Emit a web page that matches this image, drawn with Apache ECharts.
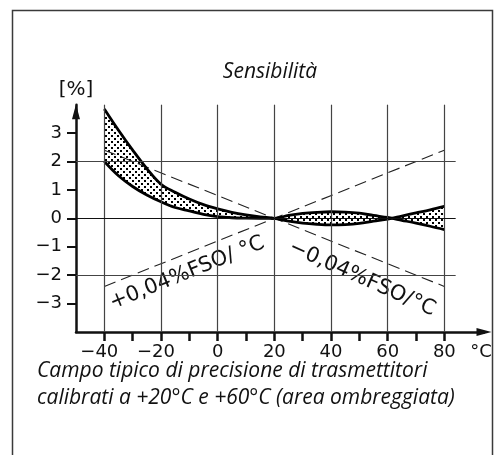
<!DOCTYPE html>
<html>
<head>
<meta charset="utf-8">
<title>Sensibilità</title>
<script src="https://cdn.jsdelivr.net/npm/echarts@6/dist/echarts.min.js"></script>
<style>
  html, body { margin: 0; padding: 0; background: #fff; }
  #chart { width: 494px; height: 455px; }
</style>
</head>
<body>
<div id="chart"></div>
<script>
// temperature [°C] at which the two band borders were read
const tempC = [-40, -35, -30, -25, -20, -15, -10, -5, 0, 5, 10, 15, 20, 25, 30, 35, 40, 45, 50, 55, 60, 65, 70, 75, 80];
// the two borders of the shaded band [%]
const curveA = [3.85, 3.1, 2.4, 1.75, 1.2, 0.92, 0.68, 0.48, 0.33, 0.21, 0.12, 0.05, 0, -0.1, -0.17, -0.21, -0.23, -0.22, -0.18, -0.1, -0.03, 0.08, 0.19, 0.3, 0.42];
const curveB = [2.0, 1.5, 1.12, 0.82, 0.58, 0.38, 0.26, 0.14, 0.06, 0.02, 0.005, 0, 0, 0.1, 0.17, 0.21, 0.23, 0.22, 0.18, 0.1, 0.03, -0.07, -0.17, -0.28, -0.4];
// +/-0,04 %FSO/°C reference lines
const slopeUp = [[-40, -2.4], [80, 2.4]];
const slopeDown = [[-40, 2.4], [80, -2.4]];
// ticks, labels, grid
const xTicks = [-40, -30, -20, -10, 0, 10, 20, 30, 40, 50, 60, 70, 80];
const xLabels = [-40, -20, 0, 20, 40, 60, 80];
const yTicks = [-3, -2, -1, 0, 1, 2, 3];
const gridX = [-40, -20, 0, 20, 40, 60, 80];
const gridY = [-2, 0, 2];

const xMin = -50, xMax = 94, yMin = -4, yMax = 4;
const gridRight = 84;
const numFont = 'DejaVu Sans';
const textFont = '"Open Sans", "Noto Sans", sans-serif';

// dotted fill for the band
const dots = document.createElement('canvas');
dots.width = 6; dots.height = 6;
(function () {
    let g = dots.getContext('2d');
    g.fillStyle = '#000';
    g.fillRect(0, 0, 2, 2);
    g.fillRect(3, 3, 2, 2);
})();

function minus(v) {
    return v < 0 ? '\u2212' + Math.abs(v) : String(v);
}

let chart = echarts.init(document.getElementById('chart'), null, { renderer: 'canvas' });

let markLines = [];
gridX.forEach(function (t) {
    markLines.push([{ coord: [t, yMin] }, { coord: [t, yMax] }]);
});
gridY.forEach(function (v) {
    markLines.push([
        { coord: [xMin, v], lineStyle: { color: v === 0 ? '#111' : '#444' } },
        { coord: [gridRight, v] }
    ]);
});

let option = {
    animation: false,
    grid: { left: 76, right: 10, top: 104.7, bottom: 123.1, outerBoundsMode: 'none' },
    xAxis: {
        type: 'value', min: xMin, max: xMax,
        name: '°C', nameLocation: 'end', nameGap: -3,
        nameTextStyle: { fontFamily: numFont, fontSize: 18, color: '#111', align: 'center', verticalAlign: 'top', padding: [11, 0, 0, 0] },
        axisLine: { show: true, onZero: false, symbol: ['none', 'triangle'], symbolSize: [8, 15], lineStyle: { color: '#111', width: 2.5 } },
        axisTick: { show: true, customValues: xTicks, length: 9, lineStyle: { color: '#111', width: 2.5 } },
        axisLabel: {
            customValues: xLabels, margin: 11,
            formatter: function (v) { return v < 0 ? '{t|' + minus(v) + '}{p| }' : '{t|' + v + '}'; },
            rich: { t: { fontFamily: numFont, fontSize: 18, color: '#111' }, p: { width: 10 } }
        },
        splitLine: { show: false }
    },
    yAxis: {
        type: 'value', min: yMin, max: yMax,
        name: '[%]', nameLocation: 'end', nameGap: 15,
        nameTextStyle: { fontFamily: numFont, fontSize: 20, color: '#111', align: 'center', verticalAlign: 'middle' },
        axisLine: { show: true, onZero: false, symbol: ['none', 'triangle'], symbolSize: [8, 15], symbolOffset: [0, -7], lineStyle: { color: '#111', width: 2.5 } },
        axisTick: { show: true, customValues: yTicks, length: 9, lineStyle: { color: '#111', width: 2 } },
        axisLabel: {
            customValues: yTicks, margin: 14,
            formatter: minus,
            fontFamily: numFont, fontSize: 18, color: '#111'
        },
        splitLine: { show: false }
    },
    series: [
        {
            type: 'custom',
            z: 1,
            silent: true,
            data: tempC.map(function (t, i) { return [t, curveA[i], curveB[i]]; }),
            renderItem: function (params, api) {
                if (params.dataIndex !== 0) return null;
                let pts = [];
                for (let i = 0; i < tempC.length; i++) pts.push(api.coord([tempC[i], curveA[i]]));
                for (let i = tempC.length - 1; i >= 0; i--) pts.push(api.coord([tempC[i], curveB[i]]));
                return { type: 'polygon', shape: { points: pts }, style: { fill: { image: dots, repeat: 'repeat' }, stroke: null } };
            }
        },
        {
            type: 'line', z: 2, silent: true, symbol: 'none',
            data: slopeUp,
            lineStyle: { color: '#222', width: 1.1, type: [12, 6] },
            markLine: {
                silent: true, symbol: 'none', label: { show: false },
                lineStyle: { type: 'solid', color: '#444', width: 1.2 },
                data: markLines
            }
        },
        {
            type: 'line', z: 2, silent: true, symbol: 'none',
            data: slopeDown,
            lineStyle: { color: '#222', width: 1.1, type: [12, 6] }
        },
        {
            type: 'line', z: 3, silent: true, symbol: 'none', smooth: 0.35,
            data: tempC.map(function (t, i) { return [t, curveA[i]]; }),
            lineStyle: { color: '#000', width: 2.8 }
        },
        {
            type: 'line', z: 3, silent: true, symbol: 'none', smooth: 0.35,
            data: tempC.map(function (t, i) { return [t, curveB[i]]; }),
            lineStyle: { color: '#000', width: 2.8 }
        }
    ]
};

chart.setOption(option);

// texts placed after the scales exist
let p1 = chart.convertToPixel({ gridIndex: 0 }, [-10.8, -1.93]);
let p2 = chart.convertToPixel({ gridIndex: 0 }, [51, -2.12]);

chart.setOption({
    graphic: [
        { type: 'polyline', silent: true, shape: { points: [[12.5, 455], [12.5, 10.5], [492.5, 10.5], [492.5, 455]] }, style: { stroke: '#3a3a3a', lineWidth: 1.5, fill: null } },
        { type: 'text', x: 270, y: 72, silent: true, style: { text: 'Sensibilità', fontFamily: textFont, fontStyle: 'italic', fontSize: 21, fill: '#111', align: 'center', verticalAlign: 'middle' } },
        { type: 'text', x: 37, y: 371, silent: true, style: { text: 'Campo tipico di precisione di trasmettitori', fontFamily: textFont, fontStyle: 'italic', fontSize: 21, fill: '#111', align: 'left', verticalAlign: 'middle' } },
        { type: 'text', x: 37, y: 398, silent: true, style: { text: 'calibrati a +20°C e +60°C (area ombreggiata)', fontFamily: textFont, fontStyle: 'italic', fontSize: 21, fill: '#111', align: 'left', verticalAlign: 'middle' } },
        { type: 'text', x: p1[0], y: p1[1], rotation: 22 * Math.PI / 180, silent: true, style: { text: '+0,04%FSO/ °C', fontFamily: numFont, fontSize: 21, fill: '#111', align: 'center', verticalAlign: 'middle' } },
        { type: 'text', x: p2[0], y: p2[1], rotation: -24 * Math.PI / 180, silent: true, style: { text: '\u22120,04%FSO/°C', fontFamily: numFont, fontSize: 21, fill: '#111', align: 'center', verticalAlign: 'middle' } }
    ]
});
</script>
</body>
</html>
